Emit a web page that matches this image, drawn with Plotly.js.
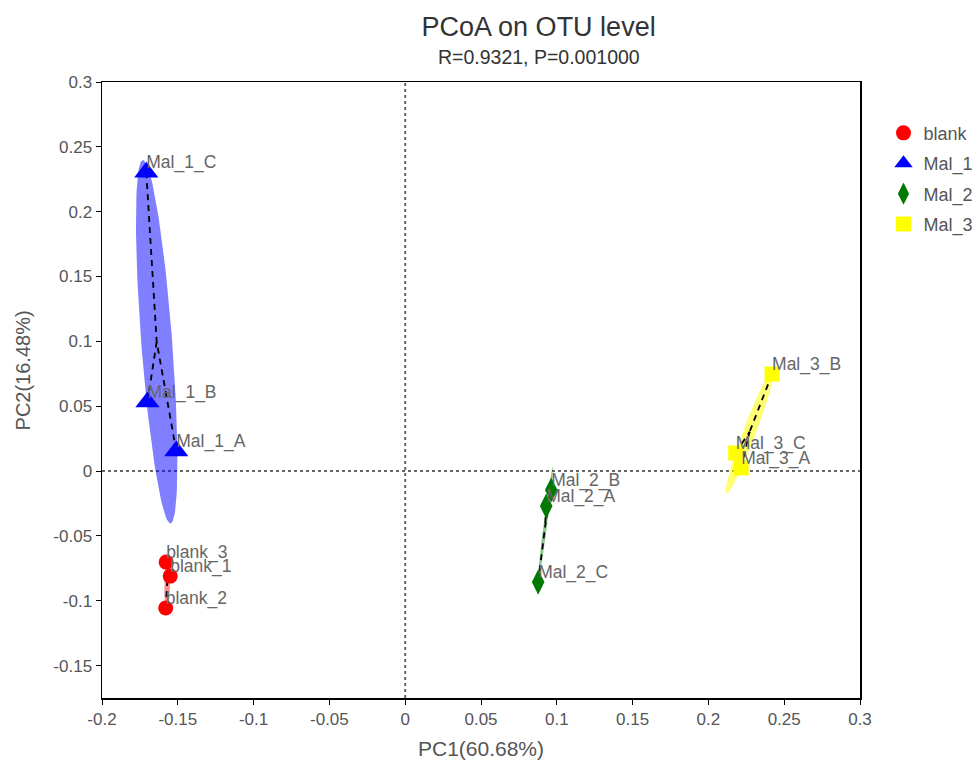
<!DOCTYPE html>
<html>
<head>
<meta charset="utf-8">
<script src="https://cdn.plot.ly/plotly-3.0.1.min.js"></script>
<style>html,body{margin:0;padding:0;background:#fff;}#chart{width:974px;height:762px;}</style>
</head>
<body>
<div id="chart"></div>
<script>
// ---- data ----
const groups = ["blank", "Mal_1", "Mal_2", "Mal_3"];
const blankNames = ["blank_1", "blank_2", "blank_3"];
const blankPC1 = [-0.155, -0.158, -0.1577];
const blankPC2 = [-0.081, -0.1056, -0.0702];
const mal1Names = ["Mal_1_A", "Mal_1_B", "Mal_1_C"];
const mal1PC1 = [-0.151, -0.170, -0.1708];
const mal1PC2 = [0.0154, 0.0532, 0.2305];
const mal2Names = ["Mal_2_A", "Mal_2_B", "Mal_2_C"];
const mal2PC1 = [0.0930, 0.0963, 0.0877];
const mal2PC2 = [-0.027, -0.0146, -0.0856];
const mal3Names = ["Mal_3_A", "Mal_3_B", "Mal_3_C"];
const mal3PC1 = [0.2216, 0.242, 0.218];
const mal3PC2 = [0.0023, 0.0748, 0.0139];
const xTickVals = [-0.2, -0.15, -0.1, -0.05, 0, 0.05, 0.1, 0.15, 0.2, 0.25, 0.3];
const xTickText = ["-0.2", "-0.15", "-0.1", "-0.05", "0", "0.05", "0.1", "0.15", "0.2", "0.25", "0.3"];
const yTickVals = [-0.15, -0.1, -0.05, 0, 0.05, 0.1, 0.15, 0.2, 0.25, 0.3];
const yTickText = ["-0.15", "-0.1", "-0.05", "0", "0.05", "0.1", "0.15", "0.2", "0.25", "0.3"];

// ---- styles ----
const FONT = "Liberation Sans, Arial, sans-serif";
const styles = {
  blank: {color: "#FF0000", fill: "rgba(255,0,0,0.45)", symbol: "circle", size: 15},
  Mal_1: {color: "#0000FF", fill: "rgba(0,0,255,0.5)", symbol: "triangle-up", size: 21},
  Mal_2: {color: "#007A00", fill: "rgba(0,128,0,0.45)", symbol: "diamond-tall", size: 18},
  Mal_3: {color: "#FFFF00", fill: "rgba(255,255,0,0.55)", symbol: "square", size: 15}
};
const sets = [
  {g: "blank", x: blankPC1, y: blankPC2, n: blankNames},
  {g: "Mal_1", x: mal1PC1, y: mal1PC2, n: mal1Names},
  {g: "Mal_2", x: mal2PC1, y: mal2PC2, n: mal2Names},
  {g: "Mal_3", x: mal3PC1, y: mal3PC2, n: mal3Names}
];

function ellipse(xs, ys, k) {
  const n = xs.length;
  const mx = xs.reduce((a, b) => a + b, 0) / n;
  const my = ys.reduce((a, b) => a + b, 0) / n;
  let sxx = 0, syy = 0, sxy = 0;
  for (let i = 0; i < n; i++) {
    sxx += (xs[i] - mx) ** 2; syy += (ys[i] - my) ** 2; sxy += (xs[i] - mx) * (ys[i] - my);
  }
  sxx /= (n - 1); syy /= (n - 1); sxy /= (n - 1);
  const tr = sxx + syy, det = sxx * syy - sxy * sxy;
  const d = Math.sqrt(Math.max(tr * tr / 4 - det, 0));
  const l1 = tr / 2 + d, l2 = Math.max(tr / 2 - d, 0);
  const theta = Math.atan2(l1 - sxx, sxy);
  const a = k * Math.sqrt(l1), b = k * Math.sqrt(l2);
  const ex = [], ey = [];
  for (let i = 0; i <= 120; i++) {
    const t = 2 * Math.PI * i / 120;
    const u = a * Math.cos(t), v = b * Math.sin(t);
    ex.push(mx + u * Math.cos(theta) - v * Math.sin(theta));
    ey.push(my + u * Math.sin(theta) + v * Math.cos(theta));
  }
  return {ex, ey, mx, my};
}

const traces = [];
const K = 1.22;
// ellipses
sets.forEach(s => {
  const e = ellipse(s.x, s.y, K);
  traces.push({x: e.ex, y: e.ey, mode: "lines", fill: "toself", fillcolor: styles[s.g].fill,
    line: {width: 0, color: styles[s.g].fill}, hoverinfo: "skip", showlegend: false});
});
// dashed lines to centroid
sets.forEach(s => {
  const e = ellipse(s.x, s.y, K);
  const lx = [], ly = [];
  for (let i = 0; i < s.x.length; i++) { lx.push(s.x[i], e.mx, null); ly.push(s.y[i], e.my, null); }
  traces.push({x: lx, y: ly, mode: "lines", line: {color: "#000", width: 1.8, dash: "6px,5px"},
    hoverinfo: "skip", showlegend: false});
});
// markers
sets.forEach(s => {
  traces.push({x: s.x, y: s.y, mode: "markers", name: s.g, legendgroup: s.g,
    marker: {color: styles[s.g].color, symbol: styles[s.g].symbol, size: styles[s.g].size}});
});
// labels
sets.forEach(s => {
  traces.push({x: s.x, y: s.y, mode: "text", text: s.n, textposition: "top right",
    textfont: {family: FONT, size: 17.5, color: "#666"},
    showlegend: false, hoverinfo: "skip"});
});

const layout = {
  width: 974, height: 762,
  paper_bgcolor: "#fff", plot_bgcolor: "#fff",
  margin: {l: 102, r: 114, t: 82, b: 64, autoexpand: false},
  font: {family: FONT, color: "#555"},
  title: {text: "PCoA on OTU level", x: 0.576, xref: "paper", xanchor: "center", y: 0.965, yref: "container",
    yanchor: "middle", font: {size: 27, color: "#333"}},
  annotations: [
    {text: "R=0.9321, P=0.001000", xref: "paper", yref: "paper", x: 0.576, y: 1.04,
      xanchor: "center", yanchor: "middle", showarrow: false, font: {size: 19.5, color: "#333"}},
    {text: "PC2(16.48%)", xref: "paper", yref: "paper", x: -0.1036, y: 0.5325, textangle: -90,
      xanchor: "center", yanchor: "middle", showarrow: false, font: {size: 20, color: "#555"}}
  ],
  xaxis: {range: [-0.2, 0.3], tickvals: xTickVals, ticktext: xTickText, showgrid: false, zeroline: false,
    showline: true, linecolor: "#000", linewidth: 1.5, mirror: true, ticks: "outside", ticklen: 5, tickcolor: "#000",
    tickfont: {size: 17, color: "#555"},
    title: {text: "PC1(60.68%)", font: {size: 21, color: "#555"}, standoff: 13}},
  yaxis: {range: [-0.175, 0.3], tickvals: yTickVals, ticktext: yTickText, showgrid: false, zeroline: false,
    showline: true, linecolor: "#000", linewidth: 1.5, mirror: true, ticks: "outside", ticklen: 5, tickcolor: "#000",
    tickfont: {size: 17, color: "#555"}},
  shapes: [
    {type: "line", xref: "x", yref: "paper", x0: 0, x1: 0, y0: 0, y1: 1, line: {color: "#666", width: 2, dash: "dot"}, layer: "below"},
    {type: "line", xref: "paper", yref: "y", x0: 0, x1: 1, y0: 0, y1: 0, line: {color: "#666", width: 2, dash: "dot"}, layer: "below"}
  ],
  legend: {x: 1.031, y: 0.947, xanchor: "left", yanchor: "top", font: {size: 18, color: "#555"},
    itemwidth: 30, tracegroupgap: 4, bgcolor: "rgba(0,0,0,0)"},
  showlegend: true
};

Plotly.newPlot("chart", traces, layout, {displayModeBar: false, staticPlot: true});
</script>
</body>
</html>
